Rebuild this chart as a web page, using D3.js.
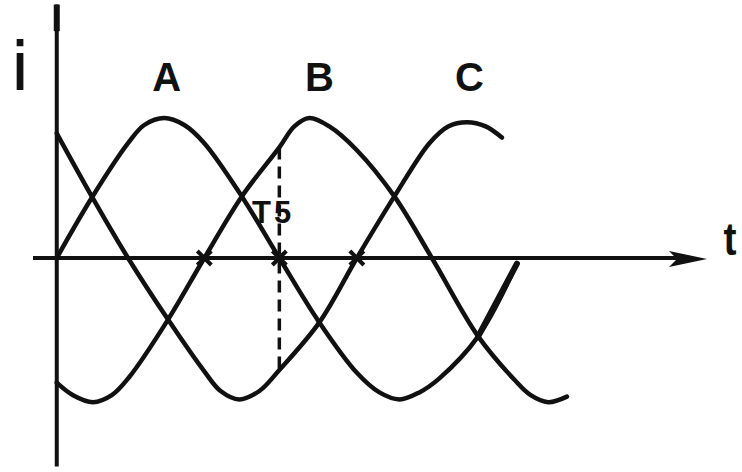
<!DOCTYPE html>
<html>
<head>
<meta charset="utf-8">
<script src="https://cdn.jsdelivr.net/npm/d3@7"></script>
<style>
	body { margin: 0; background: #fff; }
	text { font-family: "Liberation Sans", Arial, sans-serif; font-weight: bold; fill: #111; }
</style>
</head>
<body>
<div id="chart"></div>
<script>
// phase currents (t in electrical degrees, i in units of peak)
const phaseA_t = [0, 28, 57, 70, 86, 102, 118, 148, 178, 210, 240, 258, 274, 290, 306, 337, 368];
const phaseA_i = [0, 0.43, 0.82, 0.95, 1.0, 0.95, 0.82, 0.44, 0, -0.46, -0.82, -0.96, -1.01, -0.96, -0.86, -0.56, -0.04];

const phaseB_t = [0, 13, 29, 44, 58, 89, 118, 148, 178, 190, 202, 218, 240, 270, 300, 337, 366, 379, 393, 408];
const phaseB_i = [-0.89, -0.98, -1.03, -0.98, -0.85, -0.44, 0, 0.44, 0.79, 0.94, 1.0, 0.94, 0.77, 0.44, 0, -0.56, -0.87, -0.98, -1.03, -0.99];

const phaseC_t = [0, 28, 57, 89, 118, 131, 146, 162, 178, 210, 240, 270, 298, 313, 328, 343, 356];
const phaseC_i = [0.89, 0.44, 0, -0.44, -0.81, -0.95, -1.01, -0.95, -0.8, -0.46, 0, 0.44, 0.82, 0.94, 0.97, 0.94, 0.86];

const phase_names = ["A", "B", "C"];
const zero_marks_t = [118, 178, 240]; // crossings marked with an x on the t axis
const t5_t = 178; // commutation instant T5 (dashed line)

const width = 742;
const height = 472;

const svg = d3
	.select("#chart")
	.append("svg")
	.attr("width", width)
	.attr("height", height);

const x = d3.scaleLinear().domain([-19, 520]).range([33, 707]);
const y = d3.scaleLinear().domain([-1, 1]).range([398, 118]);

const ink = "#111";

// axes
svg.append("line")
	.attr("x1", x(0)).attr("x2", x(0))
	.attr("y1", y(1.81)).attr("y2", y(-1.49))
	.attr("stroke", ink).attr("stroke-width", 4);
svg.append("line")
	.attr("x1", x(0)).attr("x2", x(0))
	.attr("y1", y(1.81)).attr("y2", y(1.62))
	.attr("stroke", ink).attr("stroke-width", 6);
svg.append("line")
	.attr("x1", x(-19)).attr("x2", x(500))
	.attr("y1", y(0)).attr("y2", y(0))
	.attr("stroke", ink).attr("stroke-width", 4);
const tip = x(520);
svg.append("path")
	.attr("d", `M${tip},${y(0) + 1} L${tip - 38},${y(0) - 7} L${tip - 30},${y(0) + 1} L${tip - 38},${y(0) + 9} Z`)
	.attr("fill", ink);

// curves
const line = d3
	.line()
	.x((d) => x(d[0]))
	.y((d) => y(d[1]))
	.curve(d3.curveCatmullRom.alpha(0.5));

const series = [
	d3.zip(phaseA_t, phaseA_i),
	d3.zip(phaseB_t, phaseB_i),
	d3.zip(phaseC_t, phaseC_i),
];

svg.selectAll(".phase")
	.data(series)
	.join("path")
	.attr("class", "phase")
	.attr("d", line)
	.attr("fill", "none")
	.attr("stroke", ink)
	.attr("stroke-width", 4.5)
	.attr("stroke-linecap", "round");

// the last rise of A is drawn heavier in the sketch
svg.append("path")
	.attr("d", line(series[0].slice(-2)))
	.attr("fill", "none")
	.attr("stroke", ink)
	.attr("stroke-width", 6)
	.attr("stroke-linecap", "round");

// dashed line at T5, from B down to C
const iB = phaseB_i[phaseB_t.indexOf(t5_t)];
const iC = phaseC_i[phaseC_t.indexOf(t5_t)];
svg.append("line")
	.attr("x1", x(t5_t)).attr("x2", x(t5_t))
	.attr("y1", y(iB)).attr("y2", y(iC))
	.attr("stroke", ink)
	.attr("stroke-width", 3.5)
	.attr("stroke-dasharray", "12,7");

// x marks on the axis
const m = 7;
zero_marks_t.forEach((t) => {
	svg.append("path")
		.attr("d", `M${x(t) - m},${y(0) - m} L${x(t) + m},${y(0) + m} M${x(t) + m},${y(0) - m} L${x(t) - m},${y(0) + m}`)
		.attr("stroke", ink)
		.attr("stroke-width", 4);
});

// labels
svg.selectAll(".phase_label")
	.data(phase_names)
	.join("text")
	.attr("class", "phase_label")
	.attr("x", (d, i) => x([88, 210, 330][i]))
	.attr("y", 91)
	.attr("text-anchor", "middle")
	.attr("font-size", 40)
	.text((d) => d);

svg.append("text")
	.attr("transform", "translate(20,90) scale(0.7,1)")
	.attr("text-anchor", "middle")
	.attr("font-size", 70)
	.text("i");

svg.append("text")
	.attr("transform", "translate(730,255) scale(0.85,1)")
	.attr("text-anchor", "middle")
	.attr("font-size", 46)
	.text("t");

svg.append("text")
	.attr("x", 252)
	.attr("y", 223)
	.attr("font-size", 31)
	.attr("letter-spacing", 3)
	.text("T5");
</script>
</body>
</html>
